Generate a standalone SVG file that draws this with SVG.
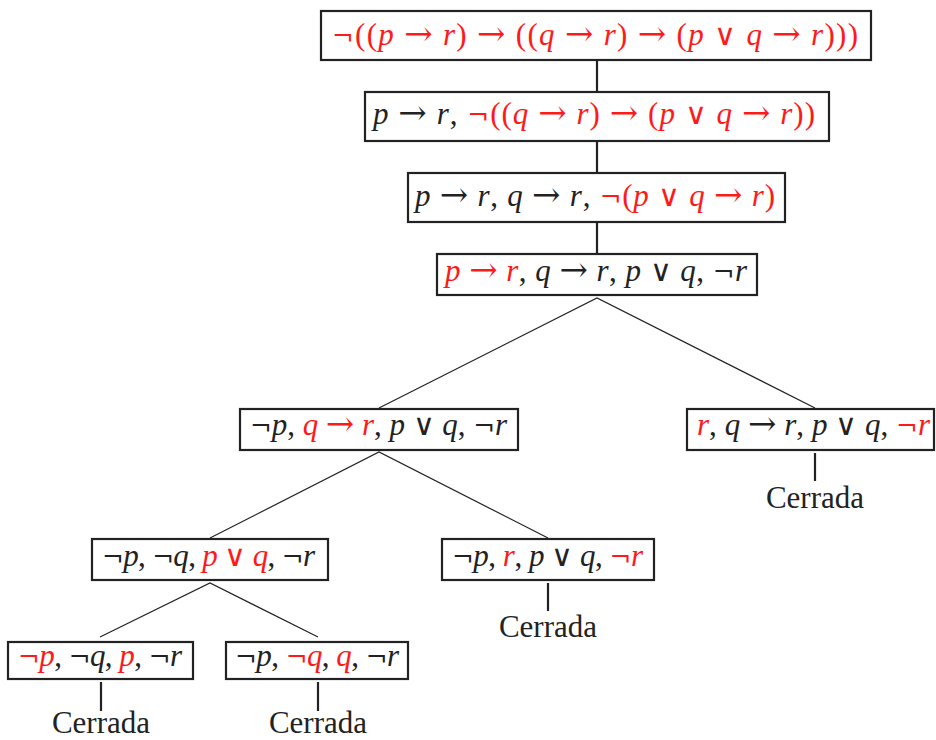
<svg xmlns="http://www.w3.org/2000/svg" width="936" height="740" viewBox="0 0 936 740">
<style>
.box{fill:#fff;stroke:#222;stroke-width:2.2}
.t{font-family:"Liberation Serif","DejaVu Serif",serif;font-size:31px;fill:#222}
.r{fill:#ff1a1a}
.i{font-style:italic}
.a{font-family:"DejaVu Serif",serif;font-style:normal;font-size:34px}
.o{font-family:"DejaVu Sans",sans-serif;font-weight:200;font-style:normal;font-size:30px}
.n{font-family:"DejaVu Serif",serif;font-style:normal;font-size:26px}
.c{font-family:"Liberation Serif","DejaVu Serif",serif;font-size:31px;fill:#222;text-anchor:middle}
.thin{stroke:#222;stroke-width:1.2;fill:none}
.thick{stroke:#222;stroke-width:2.2;fill:none}
</style>
<rect width="936" height="740" fill="#fff"/>
<g id="connectors">
<line class="thick" x1="597" y1="60" x2="597" y2="92"/>
<line class="thick" x1="597" y1="141" x2="597" y2="173"/>
<line class="thick" x1="597" y1="222" x2="597" y2="254"/>
<polyline class="thin" points="379,408 597,298 815,408"/>
<line class="thick" x1="815" y1="453" x2="815" y2="481"/>
<polyline class="thin" points="210,538 379,452 548,538"/>
<line class="thick" x1="548" y1="583" x2="548" y2="611"/>
<polyline class="thin" points="100,637 210,583 318,637"/>
<line class="thick" x1="101" y1="682" x2="101" y2="711"/>
<line class="thick" x1="318" y1="682" x2="318" y2="711"/>
</g>
<g id="n1">
<rect class="box" x="321" y="11" width="550" height="49"/>
<text class="t r" x="332" y="44.5" textLength="526" lengthAdjust="spacing"><tspan class="n">¬</tspan>((<tspan class="i">p</tspan> <tspan class="a">→</tspan> <tspan class="i">r</tspan>) <tspan class="a">→</tspan> ((<tspan class="i">q</tspan> <tspan class="a">→</tspan> <tspan class="i">r</tspan>) <tspan class="a">→</tspan> (<tspan class="i">p</tspan> <tspan class="o">∨</tspan> <tspan class="i">q</tspan> <tspan class="a">→</tspan> <tspan class="i">r</tspan>)))</text>
</g>
<g id="n2">
<rect class="box" x="365" y="92" width="464" height="49"/>
<text class="t" x="373" y="124" textLength="442" lengthAdjust="spacing"><tspan class="i">p</tspan> <tspan class="a">→</tspan> <tspan class="i">r</tspan>, <tspan class="r"><tspan class="n">¬</tspan>((<tspan class="i">q</tspan> <tspan class="a">→</tspan> <tspan class="i">r</tspan>) <tspan class="a">→</tspan> (<tspan class="i">p</tspan> <tspan class="o">∨</tspan> <tspan class="i">q</tspan> <tspan class="a">→</tspan> <tspan class="i">r</tspan>))</tspan></text>
</g>
<g id="n3">
<rect class="box" x="408" y="173" width="377" height="49"/>
<text class="t" x="415" y="206" textLength="360" lengthAdjust="spacing"><tspan class="i">p</tspan> <tspan class="a">→</tspan> <tspan class="i">r</tspan>, <tspan class="i">q</tspan> <tspan class="a">→</tspan> <tspan class="i">r</tspan>, <tspan class="r"><tspan class="n">¬</tspan>(<tspan class="i">p</tspan> <tspan class="o">∨</tspan> <tspan class="i">q</tspan> <tspan class="a">→</tspan> <tspan class="i">r</tspan>)</tspan></text>
</g>
<g id="n4">
<rect class="box" x="437" y="254" width="320" height="41"/>
<text class="t" x="445" y="281" textLength="302" lengthAdjust="spacing"><tspan class="r"><tspan class="i">p</tspan> <tspan class="a">→</tspan> <tspan class="i">r</tspan></tspan>, <tspan class="i">q</tspan> <tspan class="a">→</tspan> <tspan class="i">r</tspan>, <tspan class="i">p</tspan> <tspan class="o">∨</tspan> <tspan class="i">q</tspan>, <tspan class="n">¬</tspan><tspan class="i">r</tspan></text>
</g>
<g id="n5">
<rect class="box" x="240" y="409" width="278" height="41"/>
<text class="t" x="250" y="435" textLength="257" lengthAdjust="spacing"><tspan class="n">¬</tspan><tspan class="i">p</tspan>, <tspan class="r"><tspan class="i">q</tspan> <tspan class="a">→</tspan> <tspan class="i">r</tspan></tspan>, <tspan class="i">p</tspan> <tspan class="o">∨</tspan> <tspan class="i">q</tspan>, <tspan class="n">¬</tspan><tspan class="i">r</tspan></text>
</g>
<g id="n6">
<rect class="box" x="687" y="409" width="247" height="41"/>
<text class="t" x="697" y="435" textLength="233" lengthAdjust="spacing"><tspan class="r i">r</tspan>, <tspan class="i">q</tspan> <tspan class="a">→</tspan> <tspan class="i">r</tspan>, <tspan class="i">p</tspan> <tspan class="o">∨</tspan> <tspan class="i">q</tspan>, <tspan class="r"><tspan class="n">¬</tspan><tspan class="i">r</tspan></tspan></text>
<text class="c" x="815" y="508">Cerrada</text>
</g>
<g id="n7">
<rect class="box" x="92" y="539" width="236" height="41"/>
<text class="t" x="102" y="566" textLength="213" lengthAdjust="spacing"><tspan class="n">¬</tspan><tspan class="i">p</tspan>, <tspan class="n">¬</tspan><tspan class="i">q</tspan>, <tspan class="r"><tspan class="i">p</tspan> <tspan class="o">∨</tspan> <tspan class="i">q</tspan></tspan>, <tspan class="n">¬</tspan><tspan class="i">r</tspan></text>
</g>
<g id="n8">
<rect class="box" x="442" y="539" width="212" height="41"/>
<text class="t" x="452" y="566" textLength="191" lengthAdjust="spacing"><tspan class="n">¬</tspan><tspan class="i">p</tspan>, <tspan class="r i">r</tspan>, <tspan class="i">p</tspan> <tspan class="o">∨</tspan> <tspan class="i">q</tspan>, <tspan class="r"><tspan class="n">¬</tspan><tspan class="i">r</tspan></tspan></text>
<text class="c" x="548" y="637">Cerrada</text>
</g>
<g id="n9">
<rect class="box" x="8" y="642" width="185" height="37"/>
<text class="t" x="18" y="666" textLength="164" lengthAdjust="spacing"><tspan class="r"><tspan class="n">¬</tspan><tspan class="i">p</tspan></tspan>, <tspan class="n">¬</tspan><tspan class="i">q</tspan>, <tspan class="r i">p</tspan>, <tspan class="n">¬</tspan><tspan class="i">r</tspan></text>
<text class="c" x="101" y="733">Cerrada</text>
</g>
<g id="n10">
<rect class="box" x="226" y="642" width="182" height="37"/>
<text class="t" x="235" y="666" textLength="164" lengthAdjust="spacing"><tspan class="n">¬</tspan><tspan class="i">p</tspan>, <tspan class="r"><tspan class="n">¬</tspan><tspan class="i">q</tspan></tspan>, <tspan class="r i">q</tspan>, <tspan class="n">¬</tspan><tspan class="i">r</tspan></text>
<text class="c" x="318" y="733">Cerrada</text>
</g>
</svg>
